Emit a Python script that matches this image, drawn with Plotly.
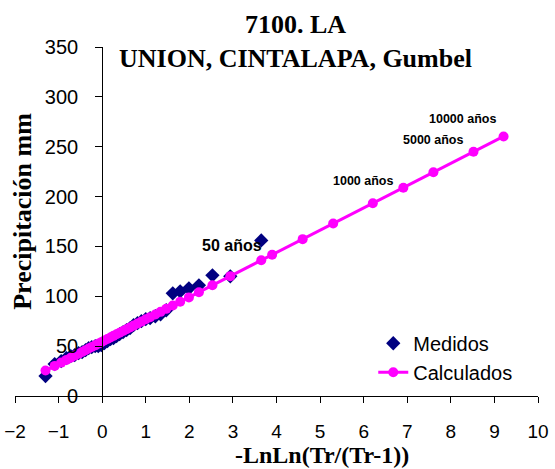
import plotly.graph_objects as go

# Measured (Medidos): reduced variate -LnLn(Tr/(Tr-1)) and precipitation (mm)
medidos_x = [-1.30, -1.09, -0.94, -0.82, -0.72, -0.63, -0.54, -0.46, -0.38, -0.31,
             -0.24, -0.16, -0.09, -0.02, 0.05, 0.12, 0.19, 0.26, 0.33, 0.40,
             0.48, 0.56, 0.64, 0.72, 0.81, 0.90, 1.00, 1.10, 1.22, 1.34,
             1.47, 1.62, 1.79, 1.99, 2.22, 2.53, 2.94, 3.65]
medidos_y = [20, 32, 35, 38, 40, 41, 43, 44, 46, 48,
             49, 50, 50, 51, 53, 55, 57, 58, 60, 62,
             64, 66, 68, 71, 73, 75, 77, 78, 80, 82,
             86, 103, 105, 108, 111, 121, 120, 156]

# Calculated (Calculados) Gumbel values
calc_x = [-1.30, -1.09, -0.94, -0.82, -0.72, -0.63, -0.54, -0.46, -0.38, -0.31,
          -0.24, -0.16, -0.09, -0.02, 0.05, 0.12, 0.19, 0.26, 0.33, 0.40,
          0.48, 0.56, 0.64, 0.72, 0.81, 0.90, 1.00, 1.10, 1.22, 1.34,
          1.47, 1.62, 1.79, 1.99, 2.22, 2.53, 2.94, 3.65,
          3.90, 4.60, 5.30, 6.21, 6.91, 7.60, 8.52, 9.21]
calc_y = [25.5, 30.2, 33.5, 36.2, 38.4, 40.5, 42.4, 44.2, 46.0, 47.6,
          49.2, 50.8, 52.4, 54.0, 55.6, 57.2, 58.7, 60.3, 61.9, 63.5,
          65.2, 67.0, 68.8, 70.6, 72.6, 74.6, 76.9, 79.1, 81.8, 84.4,
          87.4, 90.7, 94.5, 98.9, 104.1, 111.0, 120.2, 136.1,
          141.7, 157.3, 173.0, 193.3, 208.9, 224.4, 244.9, 260.3]

# Return-period labels
label_text = ["50 años", "1000 años", "5000 años", "10000 años"]
label_x = [2.98, 5.99, 7.60, 8.26]
label_y = [151, 216, 257, 277.5]
label_size = [16, 12.5, 12.5, 12.5]

xticks = list(range(-2, 11))
yticks = list(range(0, 351, 50))

fig = go.Figure()
fig.add_trace(go.Scatter(
    x=medidos_x, y=medidos_y, mode="markers", name="Medidos",
    marker=dict(symbol="diamond", size=11, color="#000080",
                line=dict(width=0))))
fig.add_trace(go.Scatter(
    x=calc_x, y=calc_y, mode="lines+markers", name="Calculados",
    line=dict(color="#FF00FF", width=3),
    marker=dict(symbol="circle", size=10, color="#FF00FF")))

sans = "Liberation Sans, Arial, sans-serif"
serif = "Liberation Serif, Times New Roman, serif"

for t, x, y, s in zip(label_text, label_x, label_y, label_size):
    fig.add_annotation(x=x, y=y, text="<b>" + t + "</b>", showarrow=False,
                       font=dict(family=sans, size=s, color="black"),
                       xanchor="center", yanchor="middle")

fig.update_layout(
    width=555, height=469,
    margin=dict(l=15, r=17, t=47, b=72.5, autoexpand=False),
    paper_bgcolor="white", plot_bgcolor="white",
    showlegend=True,
    legend=dict(x=0.685, y=0.207, xanchor="left", yanchor="top",
                font=dict(family=sans, size=20, color="black"),
                bgcolor="rgba(0,0,0,0)", tracegroupgap=0),
    xaxis=dict(range=[-2, 10], tickvals=xticks, showgrid=False, zeroline=False,
               automargin=False, ticklabeloverflow="allow",
               showline=True, linecolor="black", linewidth=1,
               ticks="outside", ticklen=6, tickcolor="black", tickwidth=1,
               tickfont=dict(family=sans, size=19, color="black"),
               ticklabelstandoff=12),
    yaxis=dict(range=[0, 350], tickvals=yticks, showgrid=False, zeroline=False,
               automargin=False,
               anchor="free", position=2/12, side="left",
               showline=True, linecolor="black", linewidth=1,
               ticks="outside", ticklen=7, tickcolor="black", tickwidth=1,
               tickfont=dict(family=sans, size=20, color="black"),
               ticklabelstandoff=13),
)

fig.add_annotation(xref="paper", yref="paper", x=(295-15)/523, y=(396.5-41)/349.5,
                   text="<b>7100. LA<br>UNION, CINTALAPA, Gumbel</b>", showarrow=False,
                   font=dict(family=serif, size=26, color="black"),
                   xanchor="center", yanchor="middle", align="center")
fig.add_annotation(xref="paper", yref="paper", x=(322-15)/523, y=(396.5-456)/349.5,
                   text="<b>-LnLn(Tr/(Tr-1))</b>", showarrow=False,
                   font=dict(family=serif, size=24, color="black"),
                   xanchor="center", yanchor="middle")
fig.add_annotation(xref="paper", yref="paper", x=(23-15)/523, y=(396.5-212)/349.5,
                   text="<b>Precipitación mm</b>", showarrow=False, textangle=-90,
                   font=dict(family=serif, size=26, color="black"),
                   xanchor="center", yanchor="middle")

# remove the page's default 8px body margin so the 555x469 figure fills the window
fig.write_html("out.html",
               config={"displayModeBar": False},
               post_script="document.body.style.margin='0';document.body.style.overflow='hidden';")
